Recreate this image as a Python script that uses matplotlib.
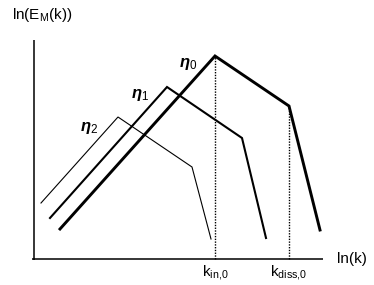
import matplotlib
matplotlib.use("Agg")
import matplotlib.pyplot as plt

plt.rcParams["font.family"] = "Liberation Sans"
plt.rcParams["mathtext.fontset"] = "custom"
plt.rcParams["mathtext.rm"] = "Liberation Sans"
plt.rcParams["mathtext.it"] = "Liberation Sans:italic:bold"

# schematic spectra: ln(k) vs ln(E_M(k)), arbitrary units
k_eta0 = [26, 181, 255, 286]
E_eta0 = [30, 203, 153, 29]
k_eta1 = [16, 133, 208, 232]
E_eta1 = [41, 172, 121, 21]
k_eta2 = [7, 84, 158, 177]
E_eta2 = [56, 142, 92, 20]

k_in0 = 181
k_diss0 = 255

fig = plt.figure(figsize=(3.74, 2.85), dpi=100)
ax = fig.add_axes([0, 0, 1, 1])
ax.set_xlim(-34, 340)
ax.set_ylim(-26, 259)
ax.axis("off")

# axes
ax.plot([-2, 289], [0, 0], color="black", lw=1.1, solid_capstyle="butt")
ax.plot([0, 0], [-1, 219], color="black", lw=1.1, solid_capstyle="butt")

# curves
ax.plot(k_eta0, E_eta0, color="black", lw=2.1, solid_joinstyle="miter")
ax.plot(k_eta1, E_eta1, color="black", lw=1.5, solid_joinstyle="miter")
ax.plot(k_eta2, E_eta2, color="black", lw=0.8, solid_joinstyle="miter")

# markers for characteristic wavenumbers
ax.plot([k_in0, k_in0], [0, E_eta0[1]], color="black", lw=1.0, ls=(0, (1, 1)))
ax.plot([k_diss0, k_diss0], [0, E_eta0[2]], color="black", lw=1.0, ls=(0, (1, 1)))

fs = 11
ax.text(-22, 244, r"ln(E$_\mathrm{M}$(k))", fontsize=fs, va="center", ha="left")
ax.text(303, 0, "ln(k)", fontsize=fs, va="center", ha="left")
ax.text(k_in0, -13, r"k$_\mathrm{in{,}0}$", fontsize=fs, va="center", ha="center")
ax.text(k_diss0, -13, r"k$_\mathrm{diss{,}0}$", fontsize=fs, va="center", ha="center")

ax.text(154, 195, r"$\eta_0$", fontsize=fs + 1, va="center", ha="center")
ax.text(106, 164, r"$\eta_1$", fontsize=fs + 1, va="center", ha="center")
ax.text(55, 131, r"$\eta_2$", fontsize=fs + 1, va="center", ha="center")

fig.savefig("out.png", dpi=100)
